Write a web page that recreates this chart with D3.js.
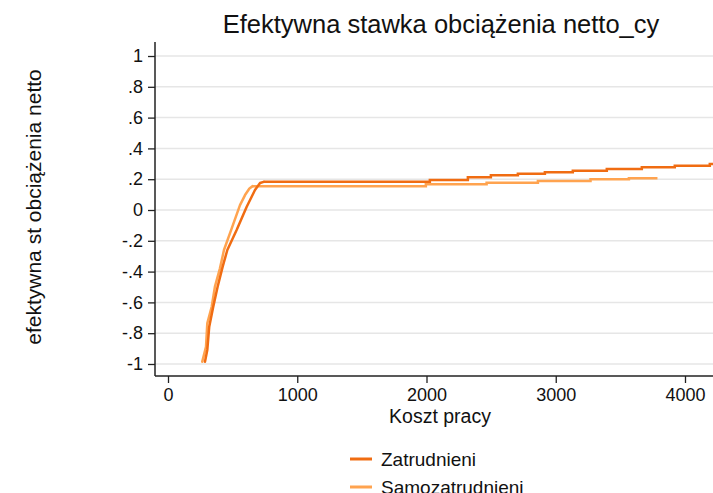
<!DOCTYPE html>
<html>
<head>
<meta charset="utf-8">
<script src="https://cdn.jsdelivr.net/npm/d3@7"></script>
<style>
  html, body { margin: 0; padding: 0; background: #fff; overflow: hidden; }
  svg { display: block; font-family: "Liberation Sans", Arial, sans-serif; }
</style>
</head>
<body>
<svg id="chart" width="713" height="493"></svg>
<script>
// Series: steep ramp section (linear) followed by a stepwise plateau
const seriesNames = ["Zatrudnieni", "Samozatrudnieni"];

const rampZatrudnieni = [
  [286, -0.985], [304, -0.909], [319, -0.758], [350, -0.628], [384, -0.498],
  [423, -0.368], [459, -0.26], [531, -0.13], [609, 0.021], [673, 0.13],
  [712, 0.175], [740, 0.183]
];
const stepXZatrudnieni = [740, 2026, 2320, 2498, 2707, 2916, 3132, 3395, 3666, 3921, 4192, 4240];
const stepYZatrudnieni = [0.183, 0.195, 0.212, 0.225, 0.236, 0.245, 0.255, 0.266, 0.277, 0.288, 0.299, 0.299];

const rampSamozatrudnieni = [
  [265, -0.985], [294, -0.888], [304, -0.736], [338, -0.628], [363, -0.498],
  [402, -0.379], [433, -0.26], [493, -0.119], [557, 0.032], [596, 0.097],
  [630, 0.14], [655, 0.155]
];
const stepXSamozatrudnieni = [655, 1995, 2465, 2862, 3269, 3566, 3787];
const stepYSamozatrudnieni = [0.155, 0.167, 0.177, 0.188, 0.199, 0.206, 0.206];

const xTicks = [0, 1000, 2000, 3000, 4000];
const yTicks = [-1, -0.8, -0.6, -0.4, -0.2, 0, 0.2, 0.4, 0.6, 0.8, 1];
const yTickLabels = ["-1", "-.8", "-.6", "-.4", "-.2", "0", ".2", ".4", ".6", ".8", "1"];

const colors = ["#f06c12", "#ffa34f"];

const svg = d3.select("#chart");
const plot = { left: 155, right: 727, top: 42, bottom: 376 };

const x = d3.scaleLinear().domain([-100.6, 4325]).range([plot.left, plot.right]);
const y = d3.scaleLinear().domain([-1.078, 1.091]).range([plot.bottom, plot.top]);

// Horizontal grid
svg.append("g")
  .selectAll("line")
  .data(yTicks)
  .join("line")
  .attr("x1", plot.left).attr("x2", plot.right)
  .attr("y1", d => y(d)).attr("y2", d => y(d))
  .attr("stroke", "#e6e6e6").attr("stroke-width", 1.5);

// Axes
const yAxis = svg.append("g")
  .attr("transform", `translate(${plot.left},0)`)
  .call(d3.axisLeft(y).tickValues(yTicks).tickSize(7).tickPadding(5)
    .tickFormat((d, i) => yTickLabels[i]));

const xAxis = svg.append("g")
  .attr("transform", `translate(0,${plot.bottom})`)
  .call(d3.axisBottom(x).tickValues(xTicks).tickSize(7).tickPadding(5)
    .tickFormat(d3.format("d")));

[yAxis, xAxis].forEach(g => {
  g.select(".domain").remove();
  g.selectAll(".tick line").attr("stroke", "#222").attr("stroke-width", 1.3);
  g.selectAll("text").attr("fill", "#111").style("font-size", "18px")
    .style("font-family", "'Liberation Sans', Arial, sans-serif");
});
// Plain axis lines without end caps
svg.append("line").attr("x1", plot.left).attr("x2", plot.left)
  .attr("y1", plot.top).attr("y2", plot.bottom)
  .attr("stroke", "#222").attr("stroke-width", 1.5);
svg.append("line").attr("x1", plot.left).attr("x2", plot.right)
  .attr("y1", plot.bottom).attr("y2", plot.bottom)
  .attr("stroke", "#222").attr("stroke-width", 1.5);

// Data lines
svg.append("clipPath").attr("id", "clip")
  .append("rect").attr("x", plot.left).attr("y", plot.top)
  .attr("width", plot.right - plot.left).attr("height", plot.bottom - plot.top);

const lines = svg.append("g").attr("clip-path", "url(#clip)");
const rampLine = d3.line().x(d => x(d[0])).y(d => y(d[1]));
const stepLine = d3.line().x(d => x(d[0])).y(d => y(d[1])).curve(d3.curveStepAfter);

const series = [
  { ramp: rampSamozatrudnieni, sx: stepXSamozatrudnieni, sy: stepYSamozatrudnieni, color: colors[1] },
  { ramp: rampZatrudnieni, sx: stepXZatrudnieni, sy: stepYZatrudnieni, color: colors[0] }
];
series.forEach(s => {
  const steps = s.sx.map((v, i) => [v, s.sy[i]]);
  lines.append("path").attr("d", rampLine(s.ramp))
    .attr("fill", "none").attr("stroke", s.color).attr("stroke-width", 2.5)
    .attr("stroke-linejoin", "round").attr("stroke-linecap", "round");
  lines.append("path").attr("d", stepLine(steps))
    .attr("fill", "none").attr("stroke", s.color).attr("stroke-width", 2.5)
    .attr("stroke-linejoin", "miter").attr("stroke-linecap", "butt");
});

// Title and axis titles
svg.append("text").attr("x", 441).attr("y", 33).attr("text-anchor", "middle")
  .style("font-size", "25.5px").attr("fill", "#111")
  .text("Efektywna stawka obciążenia netto_cy");

svg.append("text").attr("x", 440).attr("y", 423).attr("text-anchor", "middle")
  .style("font-size", "19.5px").attr("fill", "#111")
  .text("Koszt pracy");

svg.append("text")
  .attr("transform", "translate(41,207) rotate(-90)")
  .attr("text-anchor", "middle")
  .style("font-size", "21px").attr("fill", "#111")
  .text("efektywna st obciążenia netto");

// Legend
const legend = svg.append("g");
seriesNames.forEach((name, i) => {
  const ly = 459 + i * 28;
  legend.append("line").attr("x1", 350).attr("x2", 372)
    .attr("y1", ly).attr("y2", ly)
    .attr("stroke", colors[i]).attr("stroke-width", 3);
  legend.append("text").attr("x", 381).attr("y", ly + 7)
    .style("font-size", "19px").attr("fill", "#111").text(name);
});
</script>
</body>
</html>
